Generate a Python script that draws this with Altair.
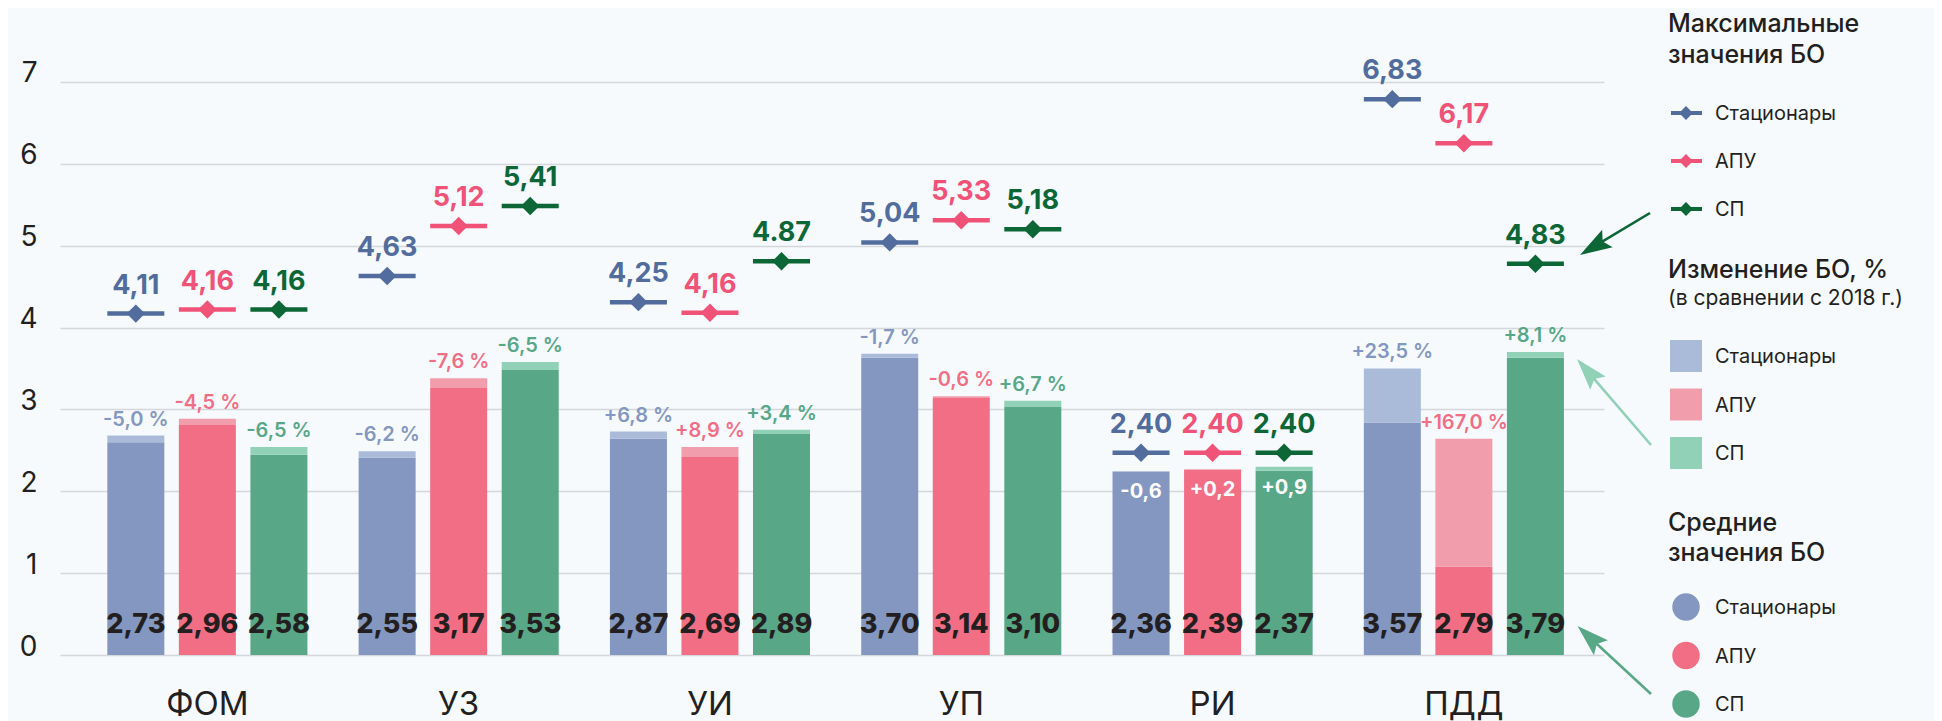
import altair as alt
import pandas as pd

# ---------------- data ----------------
groups = ["ФОМ", "УЗ", "УИ", "УП", "РИ", "ПДД"]
series = ["Стационары", "АПУ", "СП"]

# top of the darker (lower) bar segment
base_stac = [2.60, 2.41, 2.64, 3.63, 2.24, 2.84]
base_apu = [2.81, 3.26, 2.42, 3.14, 2.26, 1.08]
base_sp = [2.445, 3.48, 2.70, 3.03, 2.25, 3.63]
# top of the lighter (upper) bar segment
top_stac = [2.68, 2.49, 2.73, 3.68, 2.245, 3.50]
top_apu = [2.885, 3.38, 2.54, 3.16, 2.27, 2.64]
top_sp = [2.54, 3.58, 2.75, 3.105, 2.30, 3.70]
# maximum markers (position)
max_stac = [4.17, 4.63, 4.31, 5.04, 2.47, 6.79]
max_apu = [4.22, 5.24, 4.18, 5.31, 2.47, 6.25]
max_sp = [4.22, 5.485, 4.81, 5.20, 2.47, 4.78]
# labels
max_lbl_stac = ["4,11", "4,63", "4,25", "5,04", "2,40", "6,83"]
max_lbl_apu = ["4,16", "5,12", "4,16", "5,33", "2,40", "6,17"]
max_lbl_sp = ["4,16", "5,41", "4.87", "5,18", "2,40", "4,83"]
mean_lbl_stac = ["2,73", "2,55", "2,87", "3,70", "2,36", "3,57"]
mean_lbl_apu = ["2,96", "3,17", "2,69", "3,14", "2,39", "2,79"]
mean_lbl_sp = ["2,58", "3,53", "2,89", "3,10", "2,37", "3,79"]
pct_stac = ["-5,0 %", "-6,2 %", "+6,8 %", "-1,7 %", "-0,6", "+23,5 %"]
pct_apu = ["-4,5 %", "-7,6 %", "+8,9 %", "-0,6 %", "+0,2", "+167,0 %"]
pct_sp = ["-6,5 %", "-6,5 %", "+3,4 %", "+6,7 %", "+0,9", "+8,1 %"]
inside_group = "РИ"

y_ticks = [0, 1, 2, 3, 4, 5, 6, 7]

# ---------------- styles ----------------
FONT = "Inter"
INK = "#231f20"
BG = "#f6fafd"
dark = {"Стационары": "#8497c1", "АПУ": "#f26e85", "СП": "#58a888"}
light = {"Стационары": "#aabbd9", "АПУ": "#f29dab", "СП": "#90d1b8"}
markc = {"Стационары": "#526c9d", "АПУ": "#f05278", "СП": "#0c6636"}

rows = []
src = {
    "Стационары": (base_stac, top_stac, max_stac, max_lbl_stac, mean_lbl_stac, pct_stac),
    "АПУ": (base_apu, top_apu, max_apu, max_lbl_apu, mean_lbl_apu, pct_apu),
    "СП": (base_sp, top_sp, max_sp, max_lbl_sp, mean_lbl_sp, pct_sp),
}
for s in series:
    b, t, m, ml, mn, p = src[s]
    for i, g in enumerate(groups):
        rows.append(dict(group=g, series=s, base=b[i], top=t[i], maxpos=m[i],
                         maxlbl=ml[i], meanlbl=mn[i], pct=p[i],
                         inside=(g == inside_group),
                         cdark=dark[s], clight=light[s], cmark=markc[s]))
df = pd.DataFrame(rows)

W, H = 1544, 614
PL, PT = 52, 33
OX, OY = 8 + PL, 8 + PT  # page offset of plot origin

x_enc = alt.X("group:N", sort=groups,
              scale=alt.Scale(domain=groups, paddingInner=0, paddingOuter=0.072, align=0.6),
              axis=alt.Axis(title=None, labelFontSize=33, labelFont=FONT, labelColor=INK,
                            labelAngle=0, ticks=False, domain=False, labelPadding=59,
                            labelBaseline="alphabetic", grid=False))
xo_enc = alt.XOffset("series:N", sort=series,
                     scale=alt.Scale(domain=series, paddingInner=0.203, paddingOuter=0.358))
y_axis = alt.Axis(title=None, values=y_ticks, grid=True, gridColor="#d4d7db", gridWidth=1.5,
                  domain=False, ticks=False, labelFontSize=28, labelFont=FONT, labelColor=INK,
                  labelPadding=23, labelBaseline="alphabetic")
y_scale = alt.Scale(domain=[0, 7.5], nice=False, zero=True)

base = alt.Chart(df)

dark_bars = base.mark_bar().encode(
    x=x_enc, xOffset=xo_enc,
    y=alt.Y("base:Q", scale=y_scale, axis=y_axis),
    color=alt.Color("cdark:N", scale=None))
light_bars = base.mark_bar().encode(
    x=x_enc, xOffset=xo_enc,
    y=alt.Y("top:Q", scale=y_scale, axis=y_axis), y2="base:Q",
    color=alt.Color("clight:N", scale=None))
ticks = base.mark_tick(orient="horizontal", size=57, thickness=4.5, opacity=1).encode(
    x=x_enc, xOffset=xo_enc,
    y=alt.Y("maxpos:Q", scale=y_scale, axis=y_axis),
    color=alt.Color("cmark:N", scale=None))
diamonds = base.mark_point(shape="diamond", filled=True, size=340, opacity=1).encode(
    x=x_enc, xOffset=xo_enc,
    y=alt.Y("maxpos:Q", scale=y_scale, axis=y_axis),
    color=alt.Color("cmark:N", scale=None))
max_text = base.mark_text(dy=-20, baseline="alphabetic", fontSize=27, font=FONT,
                          fontWeight="bold").encode(
    x=x_enc, xOffset=xo_enc,
    y=alt.Y("maxpos:Q", scale=y_scale, axis=y_axis),
    text="maxlbl:N", color=alt.Color("cmark:N", scale=None))
mean_text = base.mark_text(dy=-22, baseline="alphabetic", fontSize=27, font=FONT,
                           fontWeight=800, color=INK).encode(
    x=x_enc, xOffset=xo_enc,
    y=alt.Y(datum=0, scale=y_scale, axis=y_axis),
    text="meanlbl:N")
pct_out = base.transform_filter("!datum.inside").mark_text(
    dy=-10, baseline="alphabetic", fontSize=20, font=FONT, fontWeight=600).encode(
    x=x_enc, xOffset=xo_enc,
    y=alt.Y("top:Q", scale=y_scale, axis=y_axis),
    text="pct:N", color=alt.Color("cdark:N", scale=None))
pct_in = base.transform_filter("datum.inside").mark_text(
    dy=27, baseline="alphabetic", fontSize=20, font=FONT, fontWeight="bold",
    color="white").encode(
    x=x_enc, xOffset=xo_enc,
    y=alt.Y("top:Q", scale=y_scale, axis=y_axis),
    text="pct:N")

layers = [dark_bars, light_bars, ticks, diamonds, max_text, mean_text, pct_out, pct_in]

# ---------------- legend & annotations (page pixel layout) ----------------
one = pd.DataFrame({"k": [0]})


def px(x):
    return alt.value(x - OX)


def py(y):
    return alt.value(y - OY)


def text_at(x, y, txt, size, weight="normal", color=INK):
    return alt.Chart(one).mark_text(text=txt, fontSize=size, font=FONT, fontWeight=weight,
                                    color=color, align="left", baseline="alphabetic").encode(
        x=px(x), y=py(y))


LX_SYM = 1686
LX_TXT = 1715
TITLE_SIZE = 25
ITEM_SIZE = 20

# section 1: maximum values
layers.append(text_at(1668, 32, "Максимальные", TITLE_SIZE, 500))
layers.append(text_at(1668, 63, "значения БО", TITLE_SIZE, 500))
for i, s in enumerate(series):
    cy = 113 + i * 48
    layers.append(alt.Chart(one).mark_rule(strokeWidth=4, color=markc[s]).encode(
        x=px(1671), x2=px(1702), y=py(cy), y2=py(cy)))
    layers.append(alt.Chart(one).mark_point(shape="diamond", filled=True, size=190, opacity=1,
                                            color=markc[s]).encode(x=px(LX_SYM), y=py(cy)))
    layers.append(text_at(LX_TXT, cy + 7, s, ITEM_SIZE))

# section 2: change
layers.append(text_at(1668, 278, "Изменение БО, %", TITLE_SIZE, 500))
layers.append(text_at(1668, 305, "(в сравнении с 2018 г.)", 21))
for i, s in enumerate(series):
    cy = 356 + i * 48.5
    layers.append(alt.Chart(one).mark_point(shape="square", filled=True, size=1024, opacity=1,
                                            color=light[s]).encode(x=px(LX_SYM), y=py(cy)))
    layers.append(text_at(LX_TXT, cy + 7, s, ITEM_SIZE))

# section 3: means
layers.append(text_at(1668, 531, "Средние", TITLE_SIZE, 500))
layers.append(text_at(1668, 561, "значения БО", TITLE_SIZE, 500))
for i, s in enumerate(series):
    cy = 607 + i * 48.5
    layers.append(alt.Chart(one).mark_point(shape="circle", filled=True, size=755, opacity=1,
                                            color=dark[s]).encode(x=px(LX_SYM), y=py(cy)))
    layers.append(text_at(LX_TXT, cy + 7, s, ITEM_SIZE))

# arrows
HEAD = "M0,0 L0.64,2 L0,1.65 L-0.64,2 Z"
arrows = [
    ((1650, 213), (1580, 255), "#0c6636", 239),
    ((1651, 445), (1577, 359), "#90d1b8", 319),
    ((1651, 694), (1577.5, 626), "#58a888", 313),
]
for (sx, sy), (tx, ty), col, ang in arrows:
    layers.append(alt.Chart(one).mark_rule(strokeWidth=2.6, color=col).encode(
        x=px(sx), y=py(sy), x2=px(tx + (sx - tx) * 0.15), y2=py(ty + (sy - ty) * 0.15)))
    layers.append(alt.Chart(one).mark_point(shape=HEAD, filled=True, size=1024, opacity=1,
                                            angle=ang, color=col).encode(x=px(tx), y=py(ty)))

chart = alt.layer(*layers).properties(
    width=W, height=H,
    background=BG,
    padding={"left": PL, "top": PT, "right": 1942 - 16 - PL - W, "bottom": 721 - OY - H},
    autosize=alt.AutoSizeParams(type="none"),
).configure_view(stroke=None)

chart.save("out.html", embed_options={"renderer": "svg", "actions": False})
